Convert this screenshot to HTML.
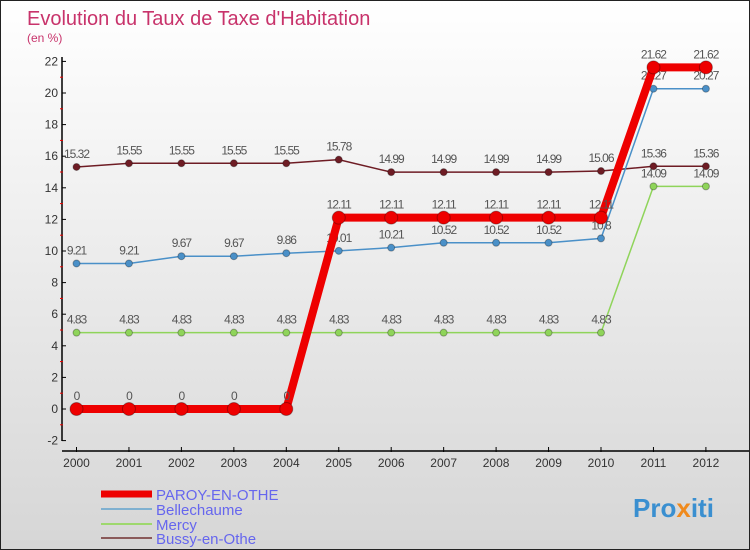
<!DOCTYPE html>
<html><head><meta charset="utf-8"><style>
body{margin:0}
#c{width:750px;height:550px;position:relative;background:linear-gradient(#ffffff,#d6d6d6);box-sizing:border-box;border:1px solid #222;overflow:hidden;font-family:"Liberation Sans",sans-serif}
svg{position:absolute;left:0;top:0}
</style></head><body>
<div id="c">
<svg id="s" width="750" height="550">
<text x="26" y="24" font-size="20" fill="#c8336b">Evolution du Taux de Taxe d'Habitation</text>
<text x="26" y="41" font-size="12" fill="#c8336b">(en %)</text>
<g id="g"></g>
<text x="632" y="516" font-size="26" font-weight="bold" fill="#3a8fd0">Pro<tspan fill="#f08a1c">x</tspan>iti</text>
</svg>
</div>
<script>
const years=[2000,2001,2002,2003,2004,2005,2006,2007,2008,2009,2010,2011,2012];
const paroy=[0,0,0,0,0,12.11,12.11,12.11,12.11,12.11,12.11,21.62,21.62];
const belle=[9.21,9.21,9.67,9.67,9.86,10.01,10.21,10.52,10.52,10.52,10.8,20.27,20.27];
const mercy=[4.83,4.83,4.83,4.83,4.83,4.83,4.83,4.83,4.83,4.83,4.83,14.09,14.09];
const bussy=[15.32,15.55,15.55,15.55,15.55,15.78,14.99,14.99,14.99,14.99,15.06,15.36,15.36];
const yTicks=[-2,0,2,4,6,8,10,12,14,16,18,20,22];
const names=["PAROY-EN-OTHE","Bellechaume","Mercy","Bussy-en-Othe"];
const NS="http://www.w3.org/2000/svg",g=document.getElementById('g');
const X=i=>75.5+i*52.45, Y=v=>408-v*15.8;
function el(t,a,p){const e=document.createElementNS(NS,t);for(const k in a)e.setAttribute(k,a[k]);(p||g).appendChild(e);return e;}
const ax=el('line',{x1:61,y1:56,x2:61,y2:440,stroke:'#000','stroke-width':1.5});

const xa=el('line',{x1:61,y1:450,x2:750,y2:450,stroke:'#000','stroke-width':1.5});

yTicks.forEach(v=>{el('line',{x1:61,y1:Y(v),x2:65,y2:Y(v),stroke:'#000'});
if(v<22)el('line',{x1:59,y1:Y(v+1),x2:62,y2:Y(v+1),stroke:'#e00'});
const t=el('text',{x:57,y:Y(v)+4,'font-size':12,'text-anchor':'end',fill:'#333'});t.textContent=v;
});
years.forEach((y,i)=>{el('line',{x1:X(i),y1:446,x2:X(i),y2:451,stroke:'#000'});
const t=el('text',{x:X(i),y:466,'font-size':12,'text-anchor':'middle',fill:'#333'});t.textContent=y;
});
function series(d,col,w,r,name){
const p=el('polyline',{points:d.map((v,i)=>X(i)+','+Y(v)).join(' '),fill:'none',stroke:col,'stroke-width':w});

d.forEach((v,i)=>{const c=el('circle',{cx:X(i),cy:Y(v),r:r,fill:col,stroke:'rgba(0,0,0,0.3)'});

const t=el('text',{x:X(i),y:Y(v)-9,'font-size':12,'text-anchor':'middle',fill:'#555','letter-spacing':'-1'});t.textContent=v;
});}
series(bussy,'#6e1c24',1.5,3.5,'bussy');
series(mercy,'#8fd45a',1.5,3.5,'mercy');
series(belle,'#4a90c8',1.5,3.5,'bellechaume');
series(paroy,'#ee0000',8,6.5,'paroy');
const lc=['#ee0000','#7fb0d0','#9ed86e','#8a5a5a'],lw=[7,2,2,2],ly=[493,508,523,537];
names.forEach((n,i)=>{const l=el('line',{x1:100,y1:ly[i],x2:151,y2:ly[i],stroke:lc[i],'stroke-width':lw[i]});

const t=el('text',{x:155,y:ly[i]+6,'font-size':15,fill:'#6666ee'});t.textContent=n;
});
</script>
</body></html>
